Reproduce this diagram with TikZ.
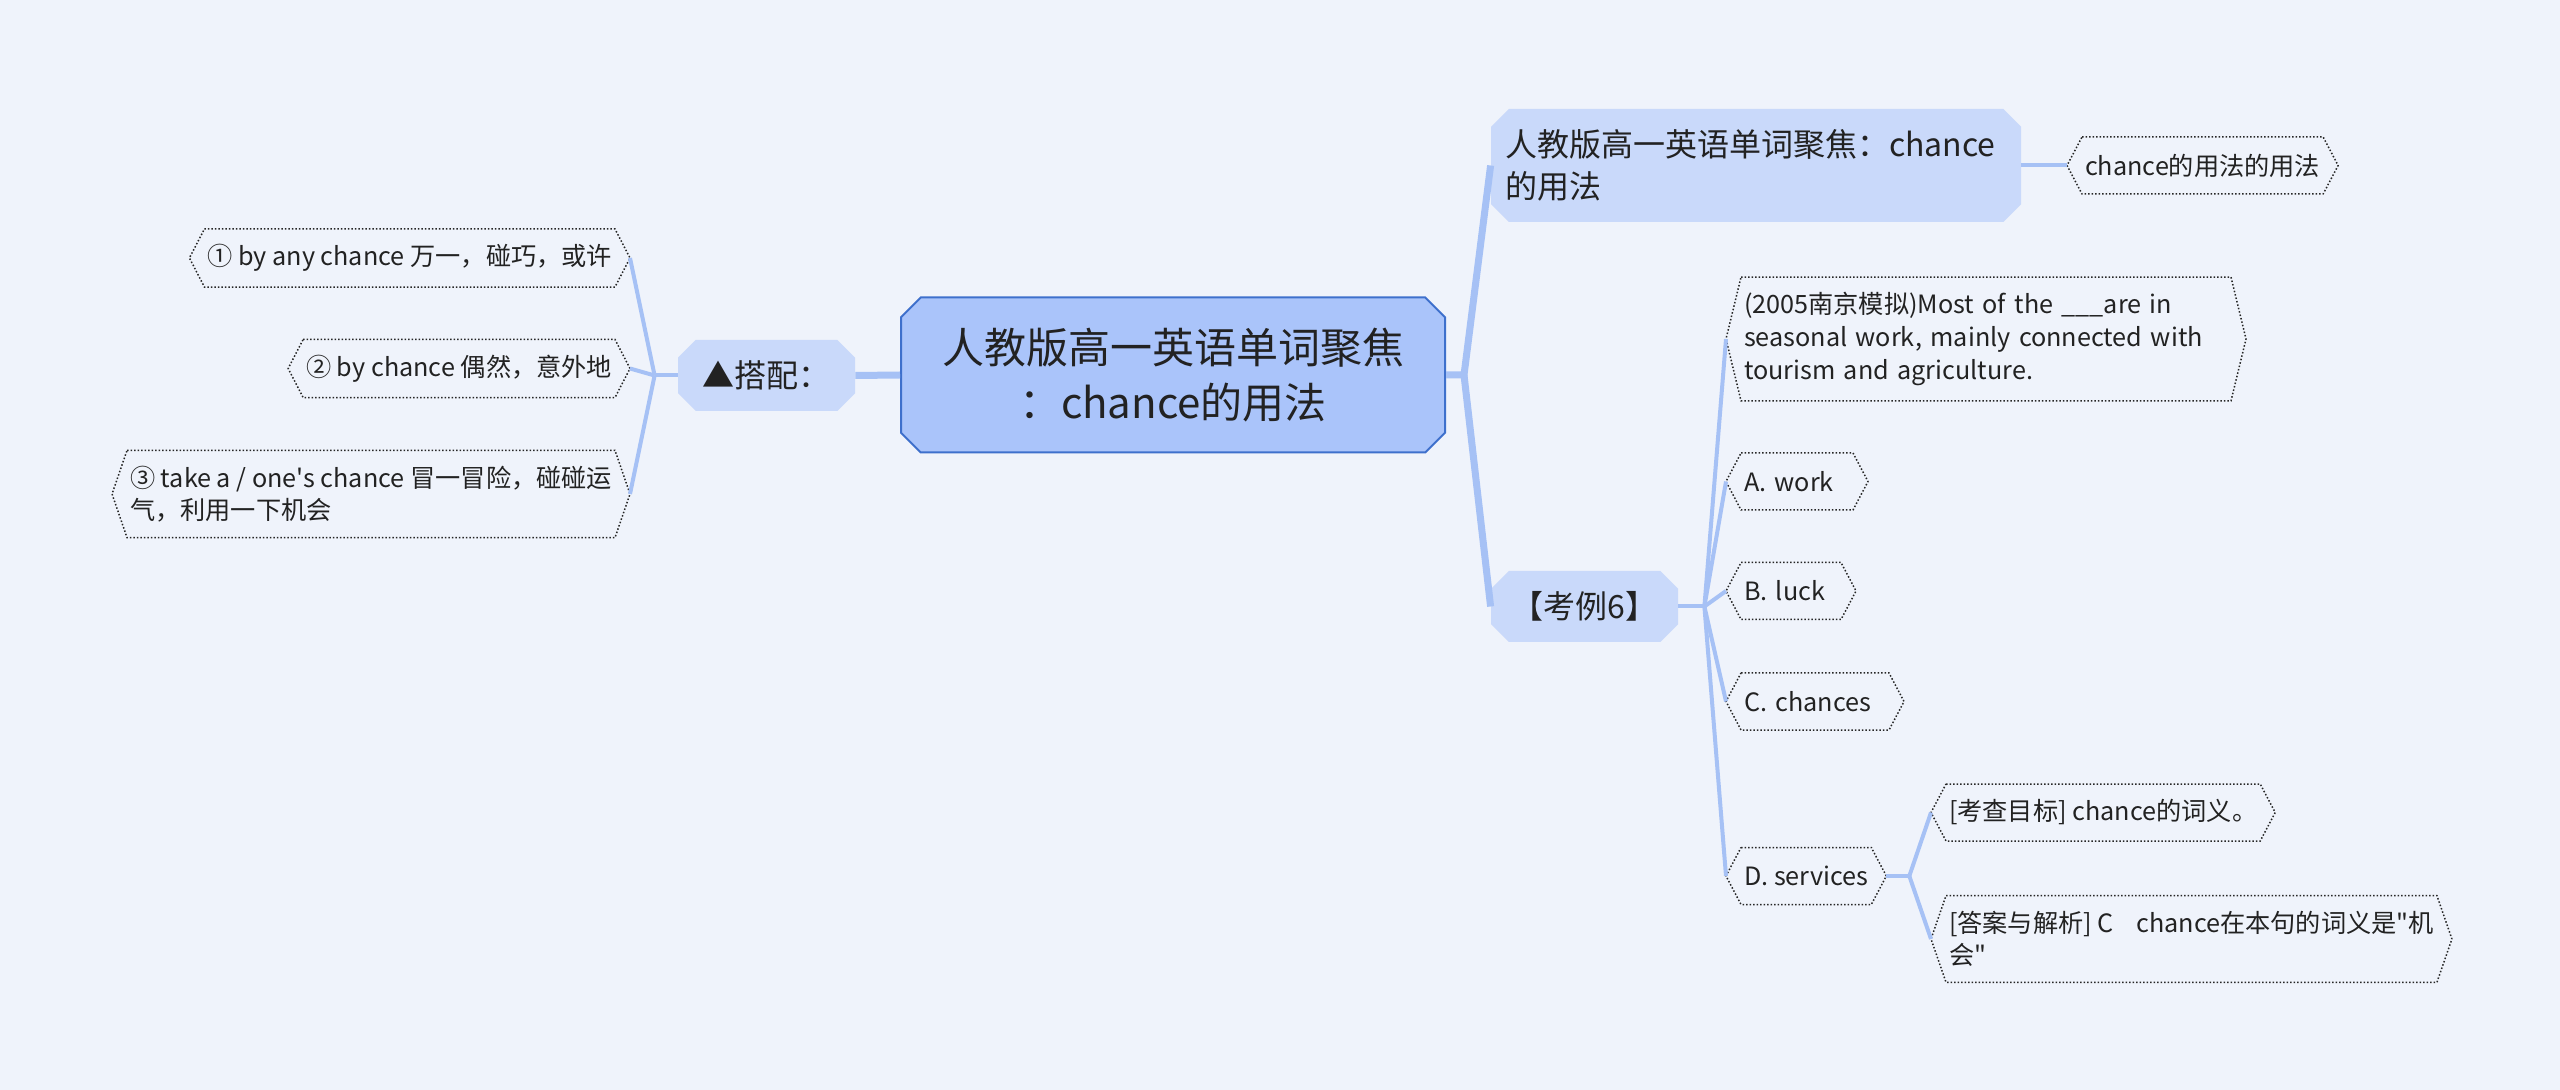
\documentclass[tikz,border=0pt]{standalone}
\usepackage{fontspec}
\newfontfamily\cnfont{Noto Sans CJK SC}
\usetikzlibrary{shapes.misc}
\definecolor{bgblue}{RGB}{239,243,251}
\definecolor{rootfill}{RGB}{170,196,250}
\definecolor{rootline}{RGB}{62,112,204}
\definecolor{subfill}{RGB}{201,217,250}
\definecolor{linkblue}{RGB}{166,193,245}
\definecolor{txt}{RGB}{34,34,34}
\newcommand{\FR}{\cnfont\fontsize{21}{27.8}\selectfont}
\newcommand{\FS}{\cnfont\fontsize{16}{21.2}\selectfont}
\newcommand{\FT}{\cnfont\fontsize{12.6}{16.3}\selectfont}
\newcommand{\leafframe}[1]{\draw[leafline] ([xshift=7.5pt]#1.north west) -- ([xshift=-7.5pt]#1.north east) -- (#1.east) -- ([xshift=-7.5pt]#1.south east) -- ([xshift=7.5pt]#1.south west) -- (#1.west) -- cycle;}

\begin{document}
\begin{tikzpicture}[x=0.5pt,y=-0.5pt]
\tikzstyle{root}=[chamfered rectangle,chamfered rectangle xsep=7pt,draw=rootline,line width=1pt,fill=rootfill,text=txt,font=\FR,align=center,inner sep=0pt,minimum width=272pt,minimum height=77.5pt]
\tikzstyle{sub}=[chamfered rectangle,chamfered rectangle xsep=6pt,fill=subfill,text=txt,font=\FS,inner sep=0pt,minimum height=35.5pt]
\tikzstyle{leaf}=[text=txt,font=\FT,align=left,inner xsep=1.5pt,inner ysep=7.7pt,outer xsep=7.5pt,outer ysep=0pt,minimum height=28.5pt]
\tikzstyle{leafline}=[black!85,densely dotted,line width=0.75pt]
\tikzstyle{trunk}=[linkblue,line width=3.5pt]
\tikzstyle{twig}=[linkblue,line width=2pt]

\fill[bgblue] (0,0) rectangle (2560,1090);
\useasboundingbox (0,0) rectangle (2560,1090);

\node[root] (root) at (1173,375) {人教版高一英语单词聚焦\\：chance的用法};

\node[sub,minimum width=88.5pt] (p1) at (766.5,375.5) {▲搭配：};
\node[sub,minimum width=265pt,align=left,text width=251pt,minimum height=56.5pt] (t1) at (1756,165.5) {人教版高一英语单词聚焦：chance\\的用法};
\node[sub,minimum width=93.5pt] (ex) at (1584.5,606.5) {【考例6】};

\node[leaf,anchor=east] (a1) at (630,258) {① by any chance 万一，碰巧，或许};
\node[leaf,anchor=east] (a2) at (630,368.5) {② by chance 偶然，意外地};
\node[leaf,anchor=east] (a3) at (630,494) {③ take a / one's chance 冒一冒险，碰碰运\\气，利用一下机会};

\node[leaf,anchor=west] (u1) at (2067,165.5) {chance的用法的用法};

\node[leaf,anchor=west,text width=242pt] (q) at (1726,339) {(2005南京模拟)Most of the \_\_\_are in\\seasonal work, mainly connected with\\tourism and agriculture.};
\node[leaf,anchor=west,text width=53pt] (oa) at (1726,481.5) {A. work};
\node[leaf,anchor=west,text width=47pt] (ob) at (1726,591) {B. luck};
\node[leaf,anchor=west,text width=71pt] (oc) at (1726,701.5) {C. chances};
\node[leaf,anchor=west] (od) at (1726,876) {D. services};
\node[leaf,anchor=west] (d1) at (1931,812.5) {[考查目标] chance的词义。};
\node[leaf,anchor=west] (d2) at (1931,939) {[答案与解析] C\hspace{0.9em}chance在本句的词义是"机\\会"};

\leafframe{a1}
\leafframe{a2}
\leafframe{a3}
\leafframe{u1}
\leafframe{q}
\leafframe{oa}
\leafframe{ob}
\leafframe{oc}
\leafframe{od}
\leafframe{d1}
\leafframe{d2}

\coordinate (rf) at ([xshift=9pt]root.east);
\draw[trunk] (root.east) -- (rf) -- (t1.west);
\draw[trunk] (rf) -- (ex.west);
\draw[trunk] (root.west) -- (p1.east);

\coordinate (pf) at ([xshift=-11.5pt]p1.west);
\draw[twig] (p1.west) -- (pf);
\draw[twig] (pf) -- (a1.east);
\draw[twig] (pf) -- (a2.east);
\draw[twig] (pf) -- (a3.east);

\draw[twig] (t1.east) -- (u1.west);

\coordinate (ef) at ([xshift=13pt]ex.east);
\draw[twig] (ex.east) -- (ef);
\draw[twig] (ef) -- (q.west);
\draw[twig] (ef) -- (oa.west);
\draw[twig] (ef) -- (ob.west);
\draw[twig] (ef) -- (oc.west);
\draw[twig] (ef) -- (od.west);

\coordinate (df) at ([xshift=11.5pt]od.east);
\draw[twig] (od.east) -- (df);
\draw[twig] (df) -- (d1.west);
\draw[twig] (df) -- (d2.west);
\end{tikzpicture}
\end{document}
